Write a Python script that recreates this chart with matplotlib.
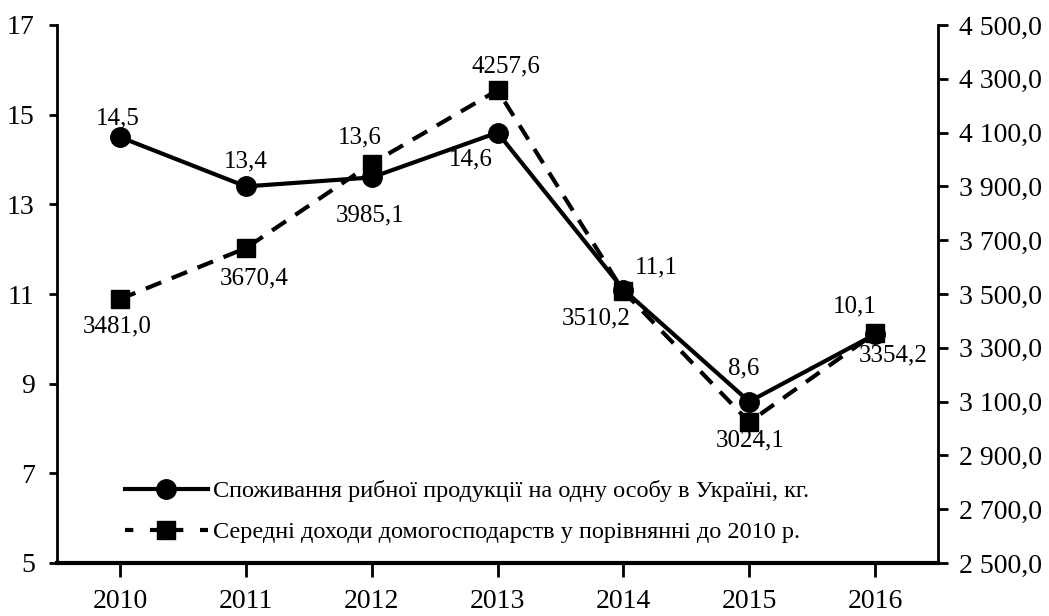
import matplotlib
matplotlib.use("Agg")
import matplotlib.pyplot as plt
from matplotlib.ticker import FuncFormatter
from matplotlib.lines import Line2D

plt.rcParams['font.family'] = ['Liberation Serif', 'DejaVu Serif']

years = [2010, 2011, 2012, 2013, 2014, 2015, 2016]
fish = [14.5, 13.4, 13.6, 14.6, 11.1, 8.6, 10.1]
income = [3481.0, 3670.4, 3985.1, 4257.6, 3510.2, 3024.1, 3354.2]
left_ticks = [5, 7, 9, 11, 13, 15, 17]
right_ticks = [2500, 2700, 2900, 3100, 3300, 3500, 3700, 3900, 4100, 4300, 4500]
fish_label = "Споживання рибної продукції на одну особу в Україні, кг."
income_label = "Середні доходи домогосподарств у порівнянні до 2010 р."

# label offsets in pixels (dx, dy)
fish_off = [(-2, 19), (0, 25), (-12, 40), (-27, -27), (33, 22), (-6, 33), (-20, 28)]
income_off = [(-3, -27), (8, -30), (-2, -52), (8, 24), (-27, -27), (1, -18), (18, -22)]

fig = plt.figure(figsize=(10.49, 6.16), dpi=100)
ax = fig.add_axes([57/1049, 53/616, (938-57)/1049, (563-25)/616])
ax2 = ax.twinx()

ax.plot(years, fish, color='black', lw=3, marker='o', ms=14, zorder=3)
ax2.plot(years, income, color='black', lw=3, ls=(0, (4, 2.7)), marker='s', ms=13.5, zorder=3)

def fmt_c(v):
    return (f"{v:.1f}").replace('.', ',')

for x, y, (dx, dy) in zip(years, fish, fish_off):
    ax.annotate(fmt_c(y), (x, y), xytext=(dx, dy), textcoords='offset pixels',
                ha='center', va='center', fontsize=18)
for x, y, (dx, dy) in zip(years, income, income_off):
    ax2.annotate(fmt_c(y), (x, y), xytext=(dx, dy), textcoords='offset pixels',
                 ha='center', va='center', fontsize=18)

ax.set_xlim(2009.5, 2016.5)
ax.set_ylim(5, 17)
ax.set_yticks(left_ticks)
ax2.set_ylim(2500, 4500)
ax2.set_yticks(right_ticks)

def rfmt(v, pos):
    return f"{v:,.1f}".replace(',', ' ').replace('.', ',')
ax2.yaxis.set_major_formatter(FuncFormatter(rfmt))
ax.set_xticks(years)
ax.set_xticklabels([str(y) for y in years])

for a in (ax, ax2):
    a.spines['top'].set_visible(False)
    a.patch.set_visible(False)
ax2.spines['left'].set_visible(False)
ax2.spines['bottom'].set_visible(False)
ax.spines['right'].set_visible(False)
ax.spines['left'].set_linewidth(2)
ax2.spines['right'].set_linewidth(2)
ax.spines['bottom'].set_linewidth(3)

ax.tick_params(axis='y', direction='out', length=6, width=2, labelsize=20, pad=10)
ax.tick_params(axis='x', direction='out', length=10, width=2, labelsize=20, pad=9)
ax2.tick_params(axis='y', direction='out', length=7, width=2, labelsize=20, pad=8)

handles = [Line2D([], [], color='black', lw=3, marker='o', ms=14),
           Line2D([], [], color='black', lw=3, ls=(0, (2, 4)), marker='s', ms=13.5)]
ax2.legend(handles, [fish_label, income_label], loc='lower left',
           bbox_to_anchor=(0.058, 0.005), frameon=False, fontsize=17.5,
           handlelength=3.4, handletextpad=0.2, labelspacing=0.78, borderpad=0.2)

fig.savefig('out.png', dpi=100)
